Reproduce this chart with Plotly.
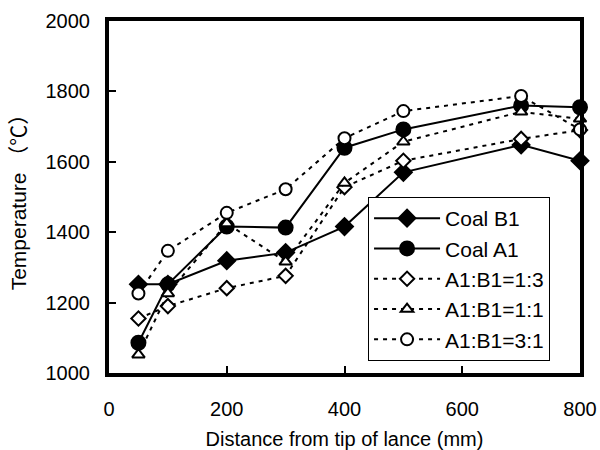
import plotly.graph_objects as go

distance = [50, 100, 200, 300, 400, 500, 700, 800]
coal_b1 = [1252, 1252, 1319, 1342, 1416, 1570, 1648, 1603]
coal_a1 = [1086, 1252, 1416, 1413, 1640, 1692, 1760, 1755]
mix_13 = [1155, 1190, 1241, 1276, 1528, 1603, 1665, 1690]
mix_11 = [1052, 1226, 1425, 1316, 1540, 1657, 1742, 1722]
mix_31 = [1226, 1347, 1455, 1522, 1667, 1744, 1787, 1692]

names = ["Coal B1", "Coal A1", "A1:B1=1:3", "A1:B1=1:1", "A1:B1=3:1"]
series = [coal_b1, coal_a1, mix_13, mix_11, mix_31]
symbols = ["diamond", "circle", "diamond", "triangle-up", "circle"]
fills = ["black", "black", "white", "white", "white"]
sizes = [13, 14, 11, 11, 12]
dashes = ["solid", "solid", "4px,5px", "4px,5px", "4px,5px"]

fig = go.Figure()
for nm, ys, sym, fc, sz, ds in zip(names, series, symbols, fills, sizes, dashes):
    fig.add_trace(go.Scatter(
        x=distance, y=ys, name=nm, mode="lines+markers", cliponaxis=False,
        line=dict(color="black", width=2, dash=ds),
        marker=dict(symbol=sym, size=sz, color=fc,
                    line=dict(color="black", width=2)),
    ))

font_family = "Liberation Sans, Arial, Noto Sans CJK JP, sans-serif"
fig.update_layout(
    width=600, height=450,
    margin=dict(l=109, r=20, t=21, b=77),
    paper_bgcolor="white", plot_bgcolor="white",
    font=dict(family=font_family, color="black", size=20),
    showlegend=True,
    legend=dict(x=0.55, y=0.5, xanchor="left", yanchor="top",
                bgcolor="white", bordercolor="black", borderwidth=1,
                font=dict(size=21), itemwidth=66),
)
fig.update_xaxes(
    range=[0, 800], tickvals=[0, 200, 400, 600, 800],
    showgrid=False, zeroline=False, automargin=False,
    showline=True, linecolor="black", linewidth=4, mirror=True,
    ticks="inside", ticklen=7, tickwidth=2, tickcolor="black",
    tickfont=dict(size=20), ticklabelstandoff=15,
    title=dict(text="Distance from tip of lance (mm)", font=dict(size=20), standoff=14),
)
fig.update_yaxes(
    range=[1000, 2000], tickvals=[1000, 1200, 1400, 1600, 1800, 2000],
    showgrid=False, zeroline=False, automargin=False,
    showline=True, linecolor="black", linewidth=4, mirror=True,
    ticks="inside", ticklen=7, tickwidth=2, tickcolor="black",
    tickfont=dict(size=20), ticklabelstandoff=11,
    title=dict(text="Temperature \uff08\u2103\uff09", font=dict(size=21), standoff=14),
)
fig.write_html("out.html", config={"displayModeBar": False},
               post_script="document.body.style.margin='0px';")
